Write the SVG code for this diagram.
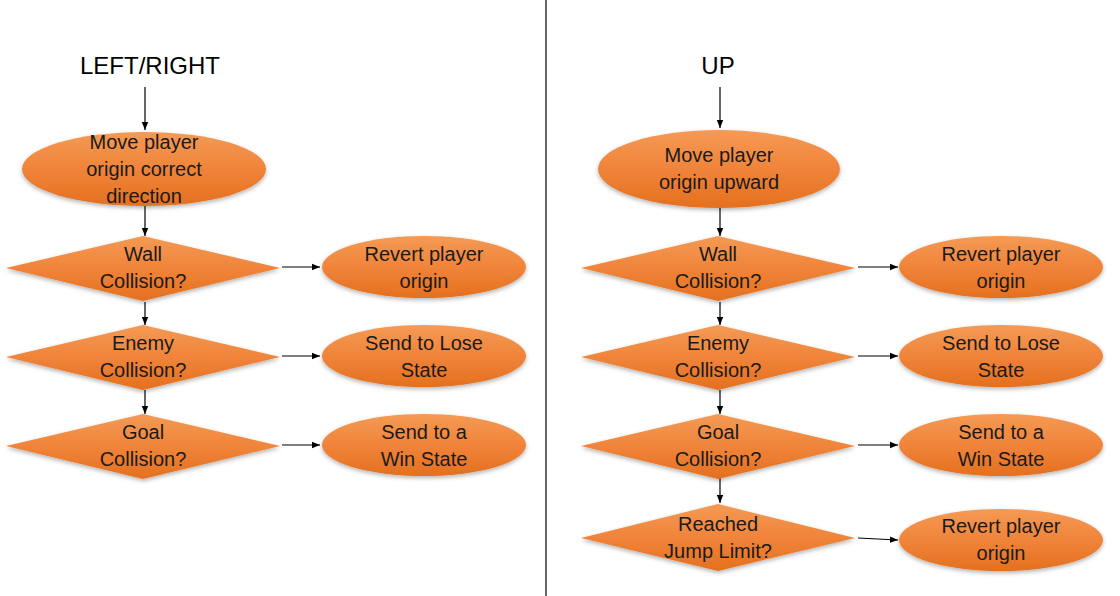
<svg xmlns="http://www.w3.org/2000/svg" width="1120" height="596" viewBox="0 0 1120 596">
<defs>
<linearGradient id="og" x1="0" y1="0" x2="0" y2="1">
<stop offset="0" stop-color="#F49A55"/>
<stop offset="0.5" stop-color="#F0843A"/>
<stop offset="1" stop-color="#E4701F"/>
</linearGradient>
<filter id="sh" x="-10%" y="-10%" width="120%" height="130%">
<feDropShadow dx="0" dy="2" stdDeviation="2" flood-color="#000" flood-opacity="0.3"/>
</filter>
<marker id="ah" viewBox="0 0 10 10" refX="10" refY="5" markerWidth="8" markerHeight="8" markerUnits="userSpaceOnUse" orient="auto">
<path d="M0,1 L10,5 L0,9 Z" fill="#000"/>
</marker>
<style>
.s{fill:url(#og);filter:url(#sh);}
.t{font-family:"Liberation Sans",Arial,sans-serif;font-size:20px;fill:#1a1a1a;text-anchor:middle;}
.h{font-family:"Liberation Sans",Arial,sans-serif;font-size:24px;fill:#000;text-anchor:middle;}
.c line{stroke:#000;stroke-width:1.2;marker-end:url(#ah);}
</style>
</defs>
<rect width="1120" height="596" fill="#fff"/>
<line x1="546" y1="0" x2="546" y2="596" stroke="#000" stroke-width="1.2"/>

<text class="h" x="150" y="74">LEFT/RIGHT</text>
<text class="h" x="718" y="74">UP</text>

<g class="c" id="connectors">
<line x1="145" y1="87" x2="145" y2="130"/>
<line x1="145" y1="206" x2="145" y2="236"/>
<line x1="282" y1="267" x2="320" y2="267"/>
<line x1="145" y1="302" x2="145" y2="325"/>
<line x1="282" y1="356" x2="320" y2="356"/>
<line x1="145" y1="390" x2="145" y2="414"/>
<line x1="282" y1="445" x2="320" y2="445"/>
<line x1="720" y1="87" x2="720" y2="128"/>
<line x1="720" y1="208" x2="720" y2="236"/>
<line x1="858" y1="267" x2="898" y2="267"/>
<line x1="720" y1="302" x2="720" y2="325"/>
<line x1="858" y1="356" x2="898" y2="356"/>
<line x1="720" y1="390" x2="720" y2="414"/>
<line x1="858" y1="445" x2="898" y2="445"/>
<line x1="720" y1="478" x2="720" y2="503"/>
<line x1="858" y1="538" x2="898" y2="540"/>
</g>

<g id="lr-move"><ellipse class="s" cx="144" cy="169" rx="122" ry="37"/>
<text class="t" x="144" y="149">Move player</text><text class="t" x="144" y="176">origin correct</text><text class="t" x="144" y="203">direction</text></g>

<g id="lr-wall"><polygon class="s" points="6,268 143,236 280,268 143,301"/>
<text class="t" x="143" y="261">Wall</text><text class="t" x="143" y="288">Collision?</text></g>
<g id="lr-revert"><ellipse class="s" cx="424" cy="267" rx="102" ry="31"/>
<text class="t" x="424" y="261">Revert player</text><text class="t" x="424" y="288">origin</text></g>

<g id="lr-enemy"><polygon class="s" points="6,357 143,325 280,357 143,390"/>
<text class="t" x="143" y="350">Enemy</text><text class="t" x="143" y="377">Collision?</text></g>
<g id="lr-lose"><ellipse class="s" cx="424" cy="356" rx="102" ry="31"/>
<text class="t" x="424" y="350">Send to Lose</text><text class="t" x="424" y="377">State</text></g>

<g id="lr-goal"><polygon class="s" points="6,446 143,414 280,446 143,479"/>
<text class="t" x="143" y="439">Goal</text><text class="t" x="143" y="466">Collision?</text></g>
<g id="lr-win"><ellipse class="s" cx="424" cy="445" rx="102" ry="31"/>
<text class="t" x="424" y="439">Send to a</text><text class="t" x="424" y="466">Win State</text></g>

<g id="up-move"><ellipse class="s" cx="719" cy="169" rx="121" ry="39"/>
<text class="t" x="719" y="162">Move player</text><text class="t" x="719" y="189">origin upward</text></g>

<g id="up-wall"><polygon class="s" points="581,268 718,236 855,268 718,301"/>
<text class="t" x="718" y="261">Wall</text><text class="t" x="718" y="288">Collision?</text></g>
<g id="up-revert"><ellipse class="s" cx="1001" cy="267" rx="102" ry="31"/>
<text class="t" x="1001" y="261">Revert player</text><text class="t" x="1001" y="288">origin</text></g>

<g id="up-enemy"><polygon class="s" points="581,357 718,325 855,357 718,390"/>
<text class="t" x="718" y="350">Enemy</text><text class="t" x="718" y="377">Collision?</text></g>
<g id="up-lose"><ellipse class="s" cx="1001" cy="356" rx="102" ry="31"/>
<text class="t" x="1001" y="350">Send to Lose</text><text class="t" x="1001" y="377">State</text></g>

<g id="up-goal"><polygon class="s" points="581,446 718,414 855,446 718,479"/>
<text class="t" x="718" y="439">Goal</text><text class="t" x="718" y="466">Collision?</text></g>
<g id="up-win"><ellipse class="s" cx="1001" cy="445" rx="102" ry="31"/>
<text class="t" x="1001" y="439">Send to a</text><text class="t" x="1001" y="466">Win State</text></g>

<g id="up-jump"><polygon class="s" points="581,538 718,504 855,538 718,571"/>
<text class="t" x="718" y="531">Reached</text><text class="t" x="718" y="558">Jump Limit?</text></g>
<g id="up-revert2"><ellipse class="s" cx="1001" cy="540" rx="102" ry="31"/>
<text class="t" x="1001" y="533">Revert player</text><text class="t" x="1001" y="560">origin</text></g>
</svg>
